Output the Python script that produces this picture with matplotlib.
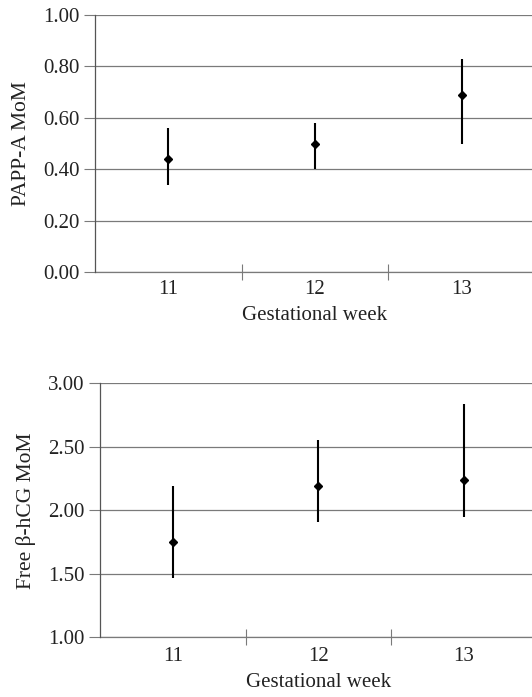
import matplotlib
matplotlib.use('Agg')
import matplotlib.pyplot as plt
from matplotlib.ticker import FixedLocator, FormatStrFormatter

# ─── Data ─────────────────────────────────────────────────────────────────────
weeks = ['11', '12', '13']

pappa_mean = [0.44, 0.50, 0.69]
pappa_low = [0.34, 0.40, 0.50]
pappa_high = [0.56, 0.58, 0.83]
pappa_ticks = [0.00, 0.20, 0.40, 0.60, 0.80, 1.00]

hcg_mean = [1.75, 2.19, 2.24]
hcg_low = [1.47, 1.91, 1.95]
hcg_high = [2.19, 2.55, 2.84]
hcg_ticks = [1.00, 1.50, 2.00, 2.50, 3.00]

plt.rcParams['font.family'] = ['Liberation Serif', 'DejaVu Serif']
GRID = '#7a7a7a'
TXT = '#222222'
FS = 15
W, H = 532, 697

fig = plt.figure(figsize=(W / 100, H / 100), dpi=100)


def panel(rect, mean, low, high, yticks, ylabel, xpad, xlabelpad):
    ax = fig.add_axes(rect)
    x = list(range(1, len(weeks) + 1))
    yerr = [[m - l for m, l in zip(mean, low)], [h - m for m, h in zip(mean, high)]]
    ax.errorbar(x, mean, yerr=yerr, fmt='D', color='black', ms=4.5,
                elinewidth=1.5, capsize=0, zorder=3)
    ax.set_xlim(0.5, 3.5)
    ax.set_ylim(yticks[0], yticks[-1])
    ax.set_yticks(yticks)
    ax.yaxis.set_major_formatter(FormatStrFormatter('%.2f'))
    ax.set_xticks(x)
    ax.set_xticklabels(weeks)
    ax.xaxis.set_minor_locator(FixedLocator([1.5, 2.5]))
    ax.tick_params(axis='x', which='major', length=0, pad=xpad, labelsize=FS,
                   labelcolor=TXT)
    ax.tick_params(axis='x', which='minor', direction='inout', length=11,
                   width=0.8, color=GRID)
    ax.tick_params(axis='y', length=8, width=0.8, color=GRID, pad=3,
                   labelsize=FS, labelcolor=TXT)
    ax.grid(axis='y', color=GRID, lw=0.9)
    for s in ['top', 'right', 'bottom']:
        ax.spines[s].set_visible(False)
    ax.spines['left'].set_color('#555555')
    ax.spines['left'].set_linewidth(0.9)
    ax.axhline(yticks[0], color=GRID, lw=0.9, clip_on=False)
    ax.set_xlabel('Gestational week', fontsize=FS, color=TXT, labelpad=xlabelpad)
    ax.set_ylabel(ylabel, fontsize=FS + 0.5, color=TXT, labelpad=9)
    return ax


panel([95 / W, (H - 272) / H, 440 / W, 257 / H],
      pappa_mean, pappa_low, pappa_high, pappa_ticks, 'PAPP-A MoM', 6, 5)
panel([100 / W, (H - 637.3) / H, 436.5 / W, 254 / H],
      hcg_mean, hcg_low, hcg_high, hcg_ticks, 'Free β-hCG MoM', 7, 5)

fig.savefig('out.png', dpi=100)
